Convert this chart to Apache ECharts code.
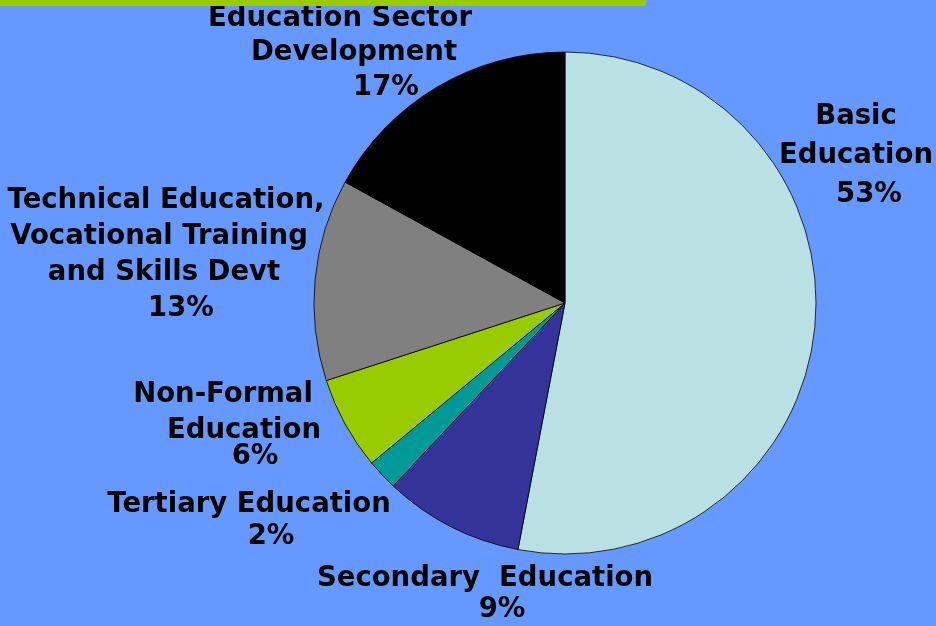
<!DOCTYPE html>
<html>
<head>
<meta charset="utf-8">
<script src="https://cdn.jsdelivr.net/npm/echarts@6/dist/echarts.min.js"></script>
<style>
  html, body { margin: 0; padding: 0; background: #6699FF; }
  #chart { width: 936px; height: 626px; }
</style>
</head>
<body>
<div id="chart"></div>
<script>
// ---- data ----
const categories = [
  'Basic\nEducation',
  'Secondary  Education',
  'Tertiary Education',
  'Non-Formal\nEducation',
  'Technical Education,\nVocational Training\nand Skills Devt',
  'Education Sector\nDevelopment'
];
const shares = [53, 9, 2, 6, 13, 17];
const sliceColors = ['#B9E0E2', '#333399', '#009999', '#99CC00', '#808080', '#000000'];

// ---- label layout (anchor x, top y, line heights, per-line horizontal shift) ----
const labelPlaces = [
  { x: 856, top: 97.5, lh: [39, 39, 39], shift: [0, 0, 13] },
  { x: 485, top: 563.5, lh: [31, 31], shift: [0, 17] },
  { x: 249, top: 489, lh: [32, 32], shift: [0, 22] },
  { x: 244, top: 374, lh: [42, 30, 22], shift: [-21, 0, 11] },
  { x: 166, top: 183, lh: [36, 36, 36, 36], shift: [0, -7, -2, 15] },
  { x: 340, top: 1.5, lh: [34.5, 34.5, 34.5], shift: [0, 14, 46] }
];

function richFor(place) {
  const rich = {};
  place.lh.forEach((h, k) => {
    const d = place.shift[k];
    rich['l' + k] = {
      fontFamily: 'DejaVu Sans',
      fontWeight: 'bold',
      fontSize: 27.5,
      color: '#000',
      lineHeight: h,
      align: 'center',
      padding: d >= 0 ? [0, 0, 0, 2 * d] : [0, -2 * d, 0, 0]
    };
  });
  return rich;
}

const pieData = categories.map((name, i) => ({
  name: name,
  value: shares[i],
  itemStyle: { color: sliceColors[i] },
  label: { rich: richFor(labelPlaces[i]) }
}));

const chart = echarts.init(document.getElementById('chart'), null, { renderer: 'canvas' });
chart.setOption({
  backgroundColor: '#6699FF',
  animation: false,
  graphic: [
    { type: 'rect', shape: { x: 0, y: 0, width: 646, height: 6 }, style: { fill: '#99CC00' }, z: 10 }
  ],
  series: [{
    type: 'pie',
    center: [565, 303],
    radius: 251,
    startAngle: 90,
    clockwise: true,
    percentPrecision: 0,
    avoidLabelOverlap: false,
    itemStyle: { borderColor: '#000', borderWidth: 0.8 },
    emphasis: { disabled: true },
    labelLine: { show: false },
    label: {
      show: true,
      position: 'outside',
      align: 'center',
      fontFamily: 'DejaVu Sans',
      fontWeight: 'bold',
      fontSize: 27.5,
      color: '#000',
      formatter: function (p) {
        const lines = p.name.split('\n');
        lines.push(p.percent + '%');
        return lines.map((t, k) => '{l' + k + '|' + t + '}').join('\n');
      }
    },
    labelLayout: function (p) {
      const pl = labelPlaces[p.dataIndex];
      return { x: pl.x, y: pl.top, align: 'center', verticalAlign: 'top' };
    },
    data: pieData
  }]
});
</script>
</body>
</html>
